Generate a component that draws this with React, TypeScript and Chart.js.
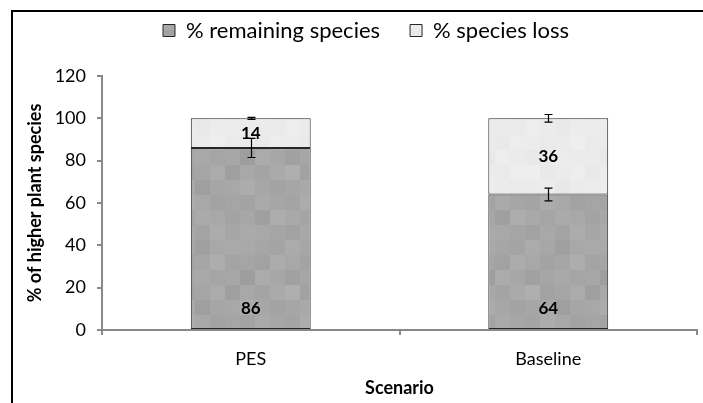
import React, { useEffect, useRef } from "react";
import { Chart, registerables } from "chart.js";

Chart.register(...registerables);

// ---- data ----
const categories = ["PES", "Baseline"];
const remaining = [86, 64];
const loss = [14, 36];
const remainingErr = [4.5, 3];
const lossErr = [0.5, 1.8];
const yTicks = [0, 20, 40, 60, 80, 100, 120];
const seriesLabels = ["% remaining species", "% species loss"];
const xTitle = "Scenario";
const yTitle = "% of higher plant species";

// ---- style ----
const FONT = "Lato, 'Open Sans', sans-serif";
const AXIS = "#898989";
// texture offsets for the mosaic fills (style only)
const darkTex = [
  3, 0, -2, 5, 1, -6, 2, 4,
  -1, -4, 6, 2, -3, 0, 7, -2,
  -8, 5, 1, -5, 0, 3, -1, 1,
  2, -2, 4, 8, -4, -1, 5, -6,
  6, 1, -3, 0, 3, -7, 0, 2,
  -3, 4, 0, -2, 6, 2, -4, -1,
  1, -6, 7, 3, -1, 4, 2, -3,
  4, 2, -1, -4, 2, -2, 6, 0,
];
const lightTex = [
  1, 0, -1, 2, 0, -2, 1, 1,
  0, -2, 2, 1, -1, 0, 3, -1,
  -3, 2, 0, -2, 0, 1, 0, 0,
  1, -1, 2, 3, -2, 0, 2, -2,
  2, 0, -1, 0, 1, -3, 0, 1,
  -1, 2, 0, -1, 2, 1, -2, 0,
  0, -2, 3, 1, 0, 2, 1, -1,
  2, 1, 0, -2, 1, -1, 2, 0,
];

function makePattern(ctx: CanvasRenderingContext2D, base: number, tex: number[], cell: number) {
  const n = 8;
  const c = document.createElement("canvas");
  c.width = n * cell;
  c.height = n * cell;
  const g = c.getContext("2d") as CanvasRenderingContext2D;
  for (let j = 0; j < n; j++) {
    for (let i = 0; i < n; i++) {
      const v = base + tex[j * n + i];
      g.fillStyle = `rgb(${v},${v},${v + 1})`;
      g.fillRect(i * cell, j * cell, cell, cell);
    }
  }
  return ctx.createPattern(c, "repeat") as CanvasPattern;
}

const framePlugin = {
  id: "frame",
  beforeDraw(chart: any) {
    const ctx = chart.ctx;
    ctx.save();
    ctx.fillStyle = "#fff";
    ctx.fillRect(0, 0, chart.width, chart.height);
    ctx.strokeStyle = "#000";
    ctx.lineWidth = 2;
    ctx.beginPath();
    ctx.moveTo(12, chart.height + 2);
    ctx.lineTo(12, 11);
    ctx.lineTo(chart.width + 2, 11);
    ctx.stroke();
    ctx.restore();
  },
};

const legendPlacePlugin = {
  id: "legendPlace",
  afterLayout(chart: any) {
    const lg = chart.legend;
    if (!lg || !lg.lineWidths) return;
    const pad = lg.options.labels.padding;
    const curX = (lg.left + pad + lg.right - lg.lineWidths[0]) / 2;
    const dx = 163 - curX;
    lg.left += dx;
    lg.right += dx;
    const fs = lg.options.labels.font.size;
    const itemH = Math.max(fs, lg.options.labels.boxHeight);
    const curY = lg.top + pad + itemH / 2;
    const dy = 30.5 - curY;
    lg.top += dy;
    lg.bottom += dy;
  },
};

const errorBarPlugin = {
  id: "errorBars",
  afterDatasetsDraw(chart: any) {
    const ctx = chart.ctx;
    const ys = chart.scales.y;
    const sets = [
      { idx: 0, errs: remainingErr, tops: remaining.map((v) => v) },
      { idx: 1, errs: lossErr, tops: remaining.map((v, i) => v + loss[i]) },
    ];
    ctx.save();
    ctx.strokeStyle = "#000";
    ctx.lineWidth = 1.2;
    sets.forEach((s) => {
      const meta = chart.getDatasetMeta(s.idx);
      meta.data.forEach((bar: any, i: number) => {
        const x = Math.round(bar.x) + 0.5;
        const y1 = ys.getPixelForValue(s.tops[i] + s.errs[i]);
        const y2 = ys.getPixelForValue(s.tops[i] - s.errs[i]);
        ctx.beginPath();
        ctx.moveTo(x, y1);
        ctx.lineTo(x, y2);
        ctx.moveTo(x - 4, y1);
        ctx.lineTo(x + 4, y1);
        ctx.moveTo(x - 4, y2);
        ctx.lineTo(x + 4, y2);
        ctx.stroke();
      });
    });
    ctx.restore();
  },
};

const labelPlugin = {
  id: "valueLabels",
  afterDatasetsDraw(chart: any) {
    const ctx = chart.ctx;
    ctx.save();
    ctx.fillStyle = "#000";
    ctx.font = `bold 17px ${FONT}`;
    ctx.textAlign = "center";
    ctx.textBaseline = "middle";
    chart.getDatasetMeta(0).data.forEach((bar: any, i: number) => {
      ctx.fillText(String(remaining[i]), bar.x, bar.base - 20);
    });
    chart.getDatasetMeta(1).data.forEach((bar: any, i: number) => {
      ctx.fillText(String(loss[i]), bar.x, (bar.y + bar.base) / 2);
    });
    ctx.restore();
  },
};

export default function App() {
  const ref = useRef<HTMLCanvasElement | null>(null);

  useEffect(() => {
    const canvas = ref.current;
    if (!canvas) return;
    const ctx = canvas.getContext("2d") as CanvasRenderingContext2D;
    const darkFill = makePattern(ctx, 166, darkTex, 15);
    const lightFill = makePattern(ctx, 235, lightTex, 15);

    const chart = new Chart(ctx, {
      type: "bar",
      data: {
        labels: categories,
        datasets: [
          {
            label: seriesLabels[0],
            data: remaining,
            backgroundColor: darkFill,
            borderColor: "#262626",
            borderWidth: 1,
            borderSkipped: false,
            categoryPercentage: 0.403,
            barPercentage: 1,
          },
          {
            label: seriesLabels[1],
            data: loss,
            backgroundColor: lightFill,
            borderColor: "#262626",
            borderWidth: 1,
            borderSkipped: false,
            categoryPercentage: 0.403,
            barPercentage: 1,
          },
        ],
      },
      options: {
        responsive: false,
        animation: false,
        layout: { padding: { left: 20, right: 6, top: 14, bottom: 0 } },
        plugins: {
          legend: {
            display: true,
            position: "top",
            labels: {
              font: { family: FONT, size: 22 },
              color: "#000",
              boxWidth: 12,
              boxHeight: 12,
              padding: 30,
            },
          },
          tooltip: { enabled: false },
        },
        scales: {
          x: {
            stacked: true,
            offset: true,
            grid: {
              display: true,
              offset: true,
              drawOnChartArea: false,
              drawTicks: true,
              tickLength: 5,
              color: AXIS,
              lineWidth: 2,
            },
            border: { display: true, color: AXIS, width: 2 },
            ticks: { padding: 13, color: "#000", font: { family: FONT, size: 18 } },
            title: {
              display: true,
              text: xTitle,
              color: "#000",
              font: { family: FONT, size: 18, weight: "bold" },
              padding: { top: 0, bottom: 4 },
            },
            afterFit: (s: any) => {
              s.height = 73;
            },
          },
          y: {
            stacked: true,
            min: 0,
            max: 120,
            afterBuildTicks: (s: any) => {
              s.ticks = yTicks.map((v) => ({ value: v }));
            },
            grid: {
              display: true,
              drawOnChartArea: false,
              drawTicks: true,
              tickLength: 5,
              color: AXIS,
              lineWidth: 2,
            },
            border: { display: true, color: AXIS, width: 2 },
            ticks: { padding: 11, color: "#000", font: { family: FONT, size: 18 } },
            title: {
              display: true,
              text: yTitle,
              color: "#000",
              font: { family: FONT, size: 18, weight: "bold" },
              padding: { top: 4, bottom: 0 },
            },
            afterFit: (s: any) => {
              s.width = 82;
            },
          },
        },
      },
      plugins: [framePlugin, legendPlacePlugin, errorBarPlugin, labelPlugin],
    } as any);

    return () => chart.destroy();
  }, []);

  return (
    <div style={{ position: "absolute", left: 0, top: 0, width: 703, height: 403 }}>
      <canvas ref={ref} width={703} height={403} style={{ display: "block" }} />
    </div>
  );
}
